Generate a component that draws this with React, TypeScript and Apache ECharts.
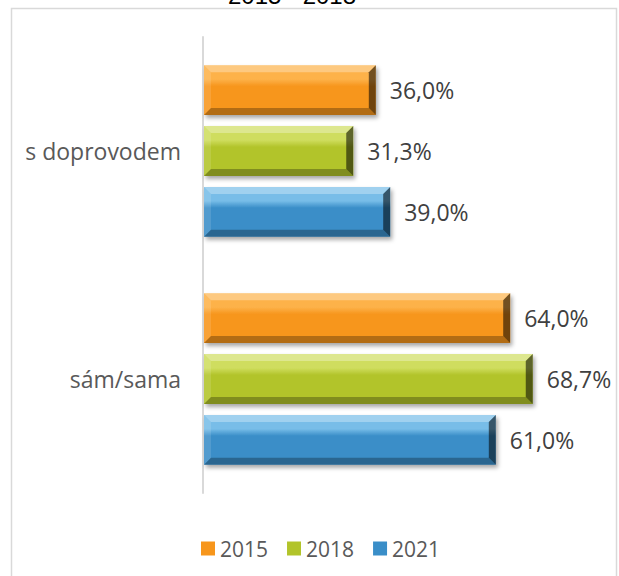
import React, { useEffect, useRef } from 'react';
import * as echarts from 'echarts';

const categories = ['s doprovodem', 'sám/sama'];
const years = ['2015', '2018', '2021'];
const values2015 = [36.0, 64.0];
const values2018 = [31.3, 68.7];
const values2021 = [39.0, 61.0];
const seriesValues = [values2015, values2018, values2021];
const colors = ['#F7961C', '#B2C42A', '#3A8EC8'];
const lightColors = ['#FDB24A', '#CFDD5E', '#78BDE8'];
const titleText = '2015 - 2018';

const FONT = '"Open Sans", sans-serif';

function fmt(v: number) {
  return v.toFixed(1).replace('.', ',') + '%';
}

function makeRender(idx: number) {
  return (params: any, api: any) => {
    const val = api.value(0);
    const cat = api.value(1);
    const start = api.coord([0, cat]);
    const end = api.coord([val, cat]);
    const band = api.size([0, 1])[1];
    const h = band * 0.219;
    const step = band * 0.267;
    const cy = start[1] + (idx - 1) * step;
    const x0 = start[0] + 1;
    const x1 = end[0];
    const y0 = cy - h / 2;
    const y1 = cy + h / 2;
    const b = 7;
    const base = colors[idx];
    const light = lightColors[idx];
    return {
      type: 'group',
      children: [
        {
          type: 'rect',
          shape: { x: x0, y: y0, width: x1 - x0, height: h },
          style: {
            fill: new echarts.graphic.LinearGradient(0, 0, 0, 1, [
              { offset: 0, color: light },
              { offset: 0.28, color: light },
              { offset: 0.42, color: base },
              { offset: 1, color: base },
            ]),
            shadowBlur: 4,
            shadowOffsetX: 2,
            shadowOffsetY: 3,
            shadowColor: 'rgba(0,0,0,0.35)',
          },
        },
        {
          type: 'polygon',
          shape: { points: [[x0, y0], [x1, y0], [x1 - b, y0 + b], [x0 + b, y0 + b]] },
          style: { fill: 'rgba(255,255,255,0.30)' },
        },
        {
          type: 'polygon',
          shape: { points: [[x0, y0], [x0 + b, y0 + b], [x0 + b, y1 - b], [x0, y1]] },
          style: { fill: 'rgba(255,255,255,0.12)' },
        },
        {
          type: 'polygon',
          shape: { points: [[x0, y1], [x1, y1], [x1 - b, y1 - b], [x0 + b, y1 - b]] },
          style: { fill: 'rgba(0,0,0,0.28)' },
        },
        {
          type: 'polygon',
          shape: { points: [[x1, y0], [x1, y1], [x1 - b, y1 - b], [x1 - b, y0 + b]] },
          style: { fill: 'rgba(0,0,0,0.55)' },
        },
        {
          type: 'text',
          x: x1 + 14,
          y: cy,
          style: {
            text: fmt(val),
            fill: '#404040',
            font: '23px ' + FONT,
            textAlign: 'left',
            textVerticalAlign: 'middle',
          },
        },
      ],
    };
  };
}

export default function App() {
  const ref = useRef<HTMLDivElement>(null);
  useEffect(() => {
    if (!ref.current) return;
    const chart = echarts.init(ref.current, undefined, { renderer: 'svg' });
    chart.setOption({
      animation: false,
      backgroundColor: '#ffffff',
      graphic: [
        {
          type: 'rect',
          shape: { x: 11.5, y: 8.5, width: 605, height: 600 },
          style: { fill: 'none', stroke: '#d9d9d9', lineWidth: 1.5 },
          silent: true,
        },
        {
          type: 'text',
          x: 292,
          y: -5,
          style: {
            text: titleText,
            fill: '#000000',
            font: '24px "Liberation Sans", Arial, sans-serif',
            textAlign: 'center',
            textVerticalAlign: 'middle',
          },
        },
      ],
      legend: {
        data: years,
        left: 196,
        top: 533,
        itemWidth: 14,
        itemHeight: 14,
        itemGap: 19,
        icon: 'rect',
        textStyle: { fontSize: 21, color: '#595959', fontFamily: FONT },
      },
      grid: { left: 203, top: 37, width: 384, bottom: 83 },
      xAxis: {
        type: 'value',
        min: 0,
        max: 80,
        show: false,
      },
      yAxis: {
        type: 'category',
        data: categories,
        inverse: true,
        axisLine: { show: true, lineStyle: { color: '#d9d9d9', width: 2 } },
        axisTick: { show: false },
        axisLabel: { fontSize: 23, color: '#595959', fontFamily: FONT, margin: 22 },
      },
      series: years.map((y, i) => ({
        type: 'custom',
        name: y,
        itemStyle: { color: colors[i] },
        encode: { x: 0, y: 1 },
        data: seriesValues[i].map((v, ci) => [v, ci]),
        renderItem: makeRender(i),
      })),
    });
    return () => chart.dispose();
  }, []);
  return (
    <div
      ref={ref}
      style={{ position: 'fixed', left: 0, top: 0, width: 619, height: 576 }}
    />
  );
}
